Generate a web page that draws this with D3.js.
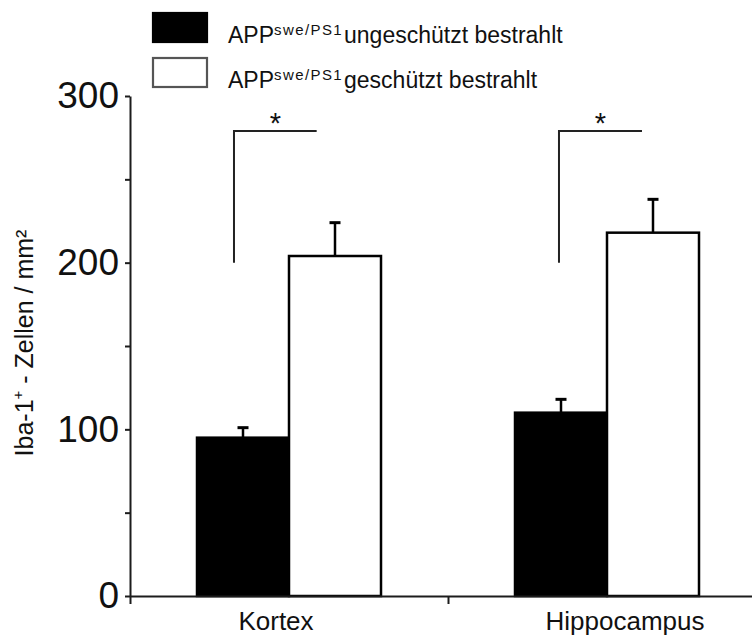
<!DOCTYPE html>
<html>
<head>
<meta charset="utf-8">
<script src="https://cdn.jsdelivr.net/npm/d3@7"></script>
<style>
  html, body { margin: 0; padding: 0; background: #fff; }
  svg { display: block; font-family: "Liberation Sans", Arial, sans-serif; }
</style>
</head>
<body>
<svg id="chart" width="752" height="637"></svg>
<script>
// Iba-1+ cell density (cells / mm²), mean and SEM per region and group
const categories = ["Kortex", "Hippocampus"];
const seriesKeys = ["ungeschuetzt", "geschuetzt"];
const seriesLabels = ["ungeschützt bestrahlt", "geschützt bestrahlt"];
const meanUngeschuetzt = [95, 110];
const meanGeschuetzt = [204, 218];
const semUngeschuetzt = [6, 8];
const semGeschuetzt = [20, 20];
const yMajorTicks = [0, 100, 200, 300];
const yMinorTicks = [50, 150, 250];
const significance = ["*", "*"];

const svg = d3.select("#chart");
const INK = "#111";
const AXIS = "#1c1c1c";

const y = d3.scaleLinear().domain([0, 300]).range([596, 96]);
const x0 = d3.scaleBand().domain(categories).range([130, 766]).padding(0);
const barW = 92;
const x1 = d3.scaleBand().domain(seriesKeys).range([-barW, barW]).padding(0);
const center = c => x0(c) + x0.bandwidth() / 2;

const rows = categories.map((c, i) => ({
  category: c,
  values: [
    { key: "ungeschuetzt", mean: meanUngeschuetzt[i], sem: semUngeschuetzt[i] },
    { key: "geschuetzt", mean: meanGeschuetzt[i], sem: semGeschuetzt[i] }
  ]
}));
const fillOf = { ungeschuetzt: "#000", geschuetzt: "#fff" };

// bars
const groups = svg.append("g").selectAll("g").data(rows).join("g")
  .attr("transform", d => `translate(${center(d.category)},0)`);

groups.selectAll("rect").data(d => d.values).join("rect")
  .attr("x", d => x1(d.key))
  .attr("width", x1.bandwidth())
  .attr("y", d => y(d.mean))
  .attr("height", d => y(0) - y(d.mean))
  .attr("fill", d => fillOf[d.key])
  .attr("stroke", "#000")
  .attr("stroke-width", 2.5);

// error bars (upper SEM only)
groups.selectAll("line.err").data(d => d.values).join("line")
  .attr("class", "err")
  .attr("x1", d => x1(d.key) + x1.bandwidth() / 2)
  .attr("x2", d => x1(d.key) + x1.bandwidth() / 2)
  .attr("y1", d => y(d.mean))
  .attr("y2", d => y(d.mean + d.sem))
  .attr("stroke", "#000").attr("stroke-width", 2.5);
groups.selectAll("line.cap").data(d => d.values).join("line")
  .attr("class", "cap")
  .attr("x1", d => x1(d.key) + x1.bandwidth() / 2 - 5.5)
  .attr("x2", d => x1(d.key) + x1.bandwidth() / 2 + 5.5)
  .attr("y1", d => y(d.mean + d.sem))
  .attr("y2", d => y(d.mean + d.sem))
  .attr("stroke", "#000").attr("stroke-width", 3);

// x axis: baseline with ticks at the group boundaries
const xEdge = d3.scaleLinear().domain([0, categories.length]).range(x0.range());
const gx = svg.append("g").attr("transform", `translate(0,${y(0)})`)
  .call(d3.axisBottom(xEdge).tickValues([0, 1]).tickSize(8).tickSizeOuter(0).tickFormat(""));
gx.select(".domain").attr("stroke", AXIS).attr("stroke-width", 2);
gx.selectAll(".tick line").attr("stroke", AXIS).attr("stroke-width", 2);

// category labels
const labelShift = [-13, 18];
svg.append("g").selectAll("text").data(categories).join("text")
  .attr("x", (d, i) => center(d) + labelShift[i])
  .attr("y", 630)
  .attr("text-anchor", "middle")
  .attr("font-size", 26)
  .attr("fill", INK)
  .text(d => d);

// y axis
const gy = svg.append("g").attr("transform", `translate(${x0.range()[0]},0)`)
  .call(d3.axisLeft(y).tickValues(yMajorTicks).tickSize(5).tickPadding(6).tickSizeOuter(0));
gy.select(".domain").attr("stroke", AXIS).attr("stroke-width", 2);
gy.selectAll(".tick line").attr("stroke", AXIS).attr("stroke-width", 2);
gy.selectAll(".tick text").attr("font-size", 37).attr("fill", INK)
  .attr("font-family", "'Liberation Sans', Arial, sans-serif");
const gyMinor = svg.append("g").attr("transform", `translate(${x0.range()[0]},0)`)
  .call(d3.axisLeft(y).tickValues(yMinorTicks).tickSize(5).tickFormat(""));
gyMinor.select(".domain").remove();
gyMinor.selectAll(".tick line").attr("stroke", AXIS).attr("stroke-width", 2);

// y axis title
const yTitle = svg.append("text")
  .attr("transform", "translate(33,343) rotate(-90)")
  .attr("text-anchor", "middle")
  .attr("font-size", 25)
  .attr("fill", INK);
yTitle.append("tspan").text("Iba-1");
yTitle.append("tspan").attr("font-size", 15).attr("dy", -10).text("+");
yTitle.append("tspan").attr("dy", 10).text(" - Zellen / mm²");

// significance brackets
const bracketSpan = [[0.327, 0.587], [0.349, 0.61]];
const bracketLow = 200, bracketHigh = 279;
const br = svg.append("g").selectAll("g").data(categories).join("g");
br.append("path")
  .attr("d", (d, i) => {
    const xa = x0(d) + x0.bandwidth() * bracketSpan[i][0];
    const xb = x0(d) + x0.bandwidth() * bracketSpan[i][1];
    return `M${xa},${y(bracketLow)}V${y(bracketHigh)}H${xb}`;
  })
  .attr("fill", "none").attr("stroke", "#222").attr("stroke-width", 2);
br.append("text")
  .attr("x", (d, i) => x0(d) + x0.bandwidth() * (bracketSpan[i][0] + bracketSpan[i][1]) / 2)
  .attr("y", y(bracketHigh) + 2)
  .attr("text-anchor", "middle")
  .attr("font-size", 29)
  .attr("fill", INK)
  .text((d, i) => significance[i]);

// legend
const legend = svg.append("g").selectAll("g").data(seriesKeys).join("g")
  .attr("transform", (d, i) => `translate(152,${12 + i * 45})`);
legend.append("rect")
  .attr("x", 1).attr("y", 1).attr("width", 54).attr("height", 29)
  .attr("fill", d => fillOf[d])
  .attr("stroke", d => d === "ungeschuetzt" ? "#000" : "#555")
  .attr("stroke-width", 2.2);
const lt = legend.append("text")
  .attr("x", 76).attr("y", 31)
  .attr("font-size", 23).attr("fill", INK);
lt.append("tspan").text("APP");
lt.append("tspan").attr("font-size", 15).attr("dy", -8).attr("letter-spacing", 1.4).text("swe/PS1");
lt.append("tspan").attr("dy", 8).attr("dx", 1).text((d, i) => seriesLabels[i]);
</script>
</body>
</html>
